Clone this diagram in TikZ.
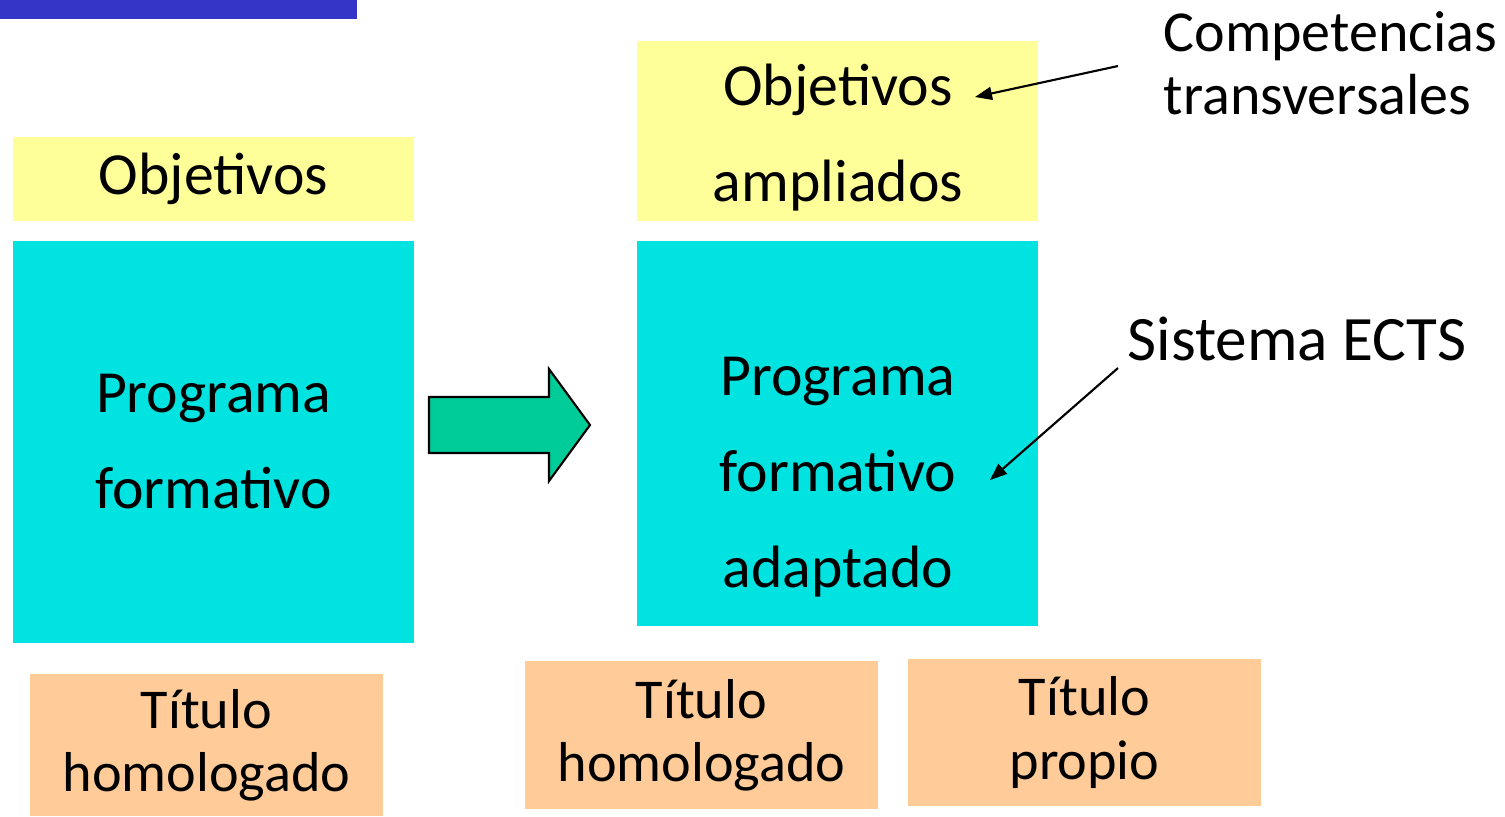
\documentclass[tikz,border=0pt]{standalone}
\usepackage{fontspec}
\setmainfont{Carlito}
\usetikzlibrary{arrows.meta}
\definecolor{amarillo}{HTML}{FFFF99}
\definecolor{turquesa}{HTML}{00E3E0}
\definecolor{naranja}{HTML}{FFCC99}
\definecolor{verdeflecha}{HTML}{00CC99}
\definecolor{azulbarra}{HTML}{3535C8}
\begin{document}
\begin{tikzpicture}[
	caja/.style={rectangle, inner sep=0pt, minimum width=4.01cm},
	titulo/.style={rectangle, fill=naranja, inner sep=0pt, minimum width=3.53cm, align=center, font=\fontsize{16}{18}\selectfont},
	texto/.style={align=center, inner sep=0pt, font=\fontsize{17}{27.3}\selectfont},
	nota/.style={inner sep=0pt, font=\fontsize{16.5}{17.9}\selectfont},
	flecha/.style={-{Triangle[length=0.17cm,width=0.13cm]}, line width=0.6pt}
	]
	\useasboundingbox (0,0) rectangle (15.05,-8.16);
	
	%barra azul
	\fill[azulbarra] (0,0) rectangle (3.57,-0.19);
	
	%antes
	\node[caja, fill=amarillo, minimum height=0.84cm, texto] (objA) at (2.135,-1.79) {Objetivos};
	\node[caja, fill=turquesa, minimum height=4.02cm, texto] (progA) at (2.135,-4.42) {Programa\\formativo};
	\node[titulo, minimum height=1.42cm] (titA) at (2.065,-7.45) {Título\\homologado};
	
	%flecha gruesa
	\draw[fill=verdeflecha, line width=0.6pt] (4.29,-3.97) -- (5.49,-3.97) -- (5.49,-3.69) -- (5.90,-4.25) -- (5.49,-4.81) -- (5.49,-4.53) -- (4.29,-4.53) -- cycle;
	
	%despues
	\node[caja, fill=amarillo, minimum height=1.80cm] (objB) at (8.375,-1.31) {};
	\node[texto] (objBtxt) at (8.38,-1.38) {Objetivos\\ampliados};
	\node[caja, fill=turquesa, minimum height=3.85cm] (progB) at (8.375,-4.335) {};
	\node[texto] (progBtxt) at (8.38,-4.77) {Programa\\formativo\\adaptado};
	\node[titulo, minimum height=1.48cm] (titB) at (7.015,-7.35) {Título\\homologado};
	\node[titulo, minimum height=1.47cm] (titC) at (10.845,-7.325) {Título\\propio};
	
	%notas
	\node[nota, align=left, anchor=north west] (compet) at (11.63,-0.11) {Competencias\\transversales};
	\node[nota, anchor=base west, font=\fontsize{18}{20}\selectfont] (ects) at (11.27,-3.60) {Sistema ECTS};
	\coordinate (pA) at (11.18,-0.66);
	\coordinate (pB) at (9.75,-0.97);
	\coordinate (pC) at (11.18,-3.68);
	\coordinate (pD) at (9.90,-4.80);
	\draw[flecha] (pA) -- (pB);
	\draw[flecha] (pC) -- (pD);
\end{tikzpicture}
\end{document}
